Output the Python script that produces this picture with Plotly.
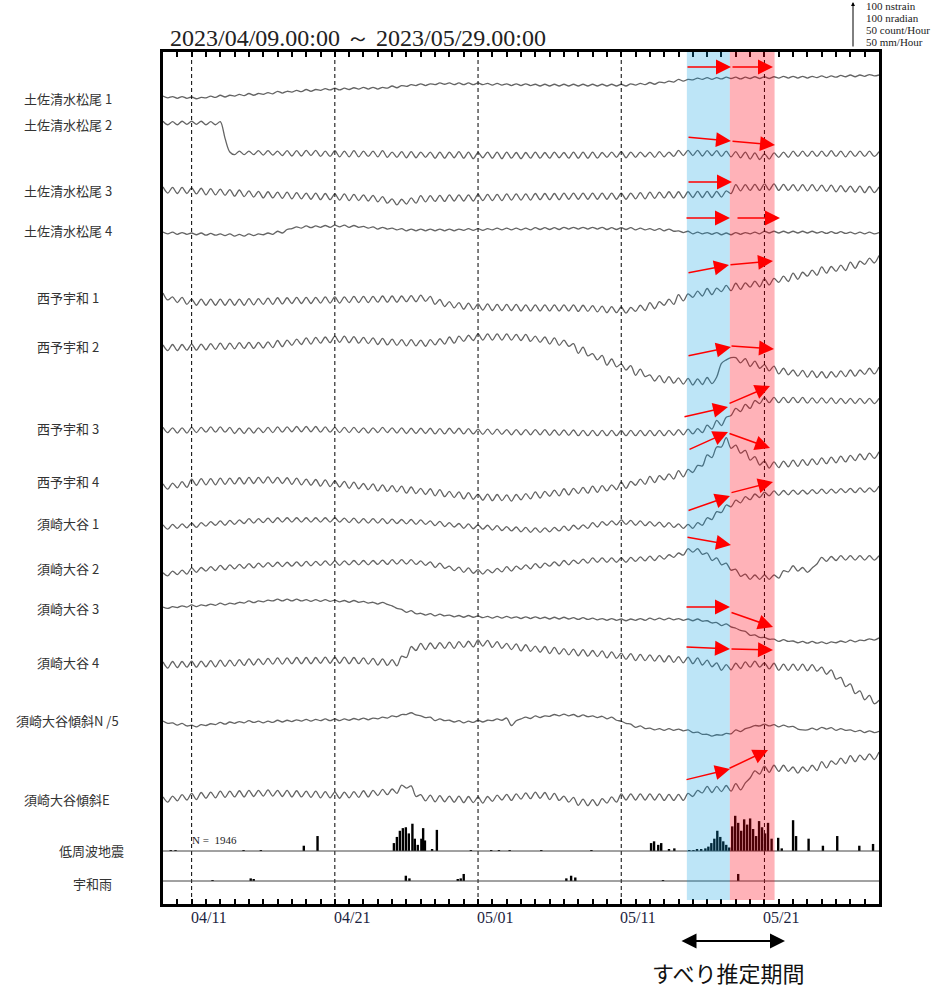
import plotly.graph_objects as go
import pandas as pd

# ---------------- data ----------------
T0 = pd.Timestamp("2023-04-09 00:00")
times = pd.date_range(T0, periods=151, freq="8h")   # 8-hourly samples, 04/09 - 05/29

stations = ["土佐清水松尾 1", "土佐清水松尾 2", "土佐清水松尾 3", "土佐清水松尾 4",
            "西予宇和 1", "西予宇和 2", "西予宇和 3", "西予宇和 4",
            "須崎大谷 1", "須崎大谷 2", "須崎大谷 3", "須崎大谷 4",
            "須崎大谷傾斜N /5", "須崎大谷傾斜E"]
extra_labels = ["低周波地震", "宇和雨"]

# relative strain / tilt values (nstrain / nradian), upward positive
s1 = [2,-2,1, -3,1,-3, 0,-4,-1, -2,2,-1, 4,0,4, 2,6,3, 8,4,8, 6,10,7, 13,9,13, 11,15,12,
      17,13,17, 15,19,16, 20,16,20, 17,21,18, 22,18,22, 18,22,20, 25,21,26, 24,28,26, 30,26,30,
      28,32,29, 32,28,32, 28,32,28, 32,28,31, 27,31,27, 30,26,30, 26,30,26, 29,25,29, 25,29,25,
      29,25,29, 25,29,25, 29,25,29, 25,29,25, 29,25,30, 27,31,28, 33,29,34, 32,36,34, 40,36,40,
      39,43,40, 44,40,44, 41,45,42, 45,41,45, 42,46,42, 46,42,46, 43,47,43, 47,43,47, 43,47,44,
      48,44,48, 45,49,46, 50,46,50, 47,51,48, 50]
s2 = [4,-4,3, -4,4,-3, 4,-3,4, -4,3,-4, 3,-35,-66, -72,-64,-72, -64,-72,-63, -73,-63,-73,
      -64,-74,-63, -75,-63,-75, -62,-74,-62, -76,-64,-76, -63,-77,-64, -77,-63,-77, -64,-76,-64,
      -77,-63,-78, -66,-78,-65, -79,-65,-79, -66,-78,-66, -80,-66,-80, -66,-79,-65, -80,-66,-81,
      -67,-79,-66, -80,-66,-81, -66,-80,-67, -81,-67,-80, -66,-80,-67, -80,-66,-79, -67,-80,-66,
      -80,-66,-80, -66,-80,-67, -78,-66,-78, -65,-79,-66, -78,-66,-77, -66,-78,-65, -77,-66,-76,
      -62,-74,-62, -74,-62,-75, -63,-74,-63, -76,-64,-77, -65,-79,-66, -82,-68,-83, -70,-82,-68,
      -78,-66,-78, -64,-76,-64, -76,-64,-76, -64,-76,-63, -76,-64,-77, -64,-76,-64, -76,-64,-76, -65]
s3 = [7,-7,6, -8,6,-8, 5,-9,4, -11,3,-11, 2,-12,1, -14,0,-15, -2,-16,-3, -18,-4,-18, -5,-19,-5,
      -20,-6,-20, -7,-21,-7, -22,-8,-22, -9,-23,-9, -24,-10,-24, -11,-25,-12, -27,-15,-30,
      -20,-34,-21, -32,-18,-30, -13,-27,-13, -26,-12,-26, -11,-25,-11, -25,-11,-25, -10,-24,-10,
      -24,-10,-24, -9,-23,-9, -23,-9,-23, -8,-22,-8, -22,-8,-22, -7,-21,-7, -21,-7,-21, -7,-21,-7,
      -21,-7,-21, -7,-21,-7, -20,-6,-20, -5,-19,-5, -18,-4,-18, -4,-18,-4, -17,-3,-17, -3,-17,-3,
      -16,-2,-8, 12,-2,12, -1,13,-1, 14,0,14, -1,13,-1, 12,-2,12, -2,12,-2, 11,-3,11, -4,10,-4,
      9,-5,9, -6,8,-6, 7]
s4 = [2,-2,2, -3,1,-3, 0,-4,0, -5,-1,-5, -2,-6,-2, -7,-3,-7, -2,-6,-2, -4,0,-3, 4,0,8, 10,14,11,
      16,12,16, 13,17,13, 18,14,18, 13,17,13, 15,11,14, 9,13,9, 11,7,10, 5,9,5, 9,5,9, 5,9,5,
      9,5,9, 6,10,6, 10,6,10, 7,11,7, 11,7,11, 7,11,7, 12,8,12, 8,12,8, 13,9,13, 9,13,9, 13,9,13,
      8,12,8, 12,8,12, 7,11,7, 10,6,10, 5,9,4, 5,1,4, -2,2,-2, 1,-3,1, -4,0,-4, 1,-3,1, -2,2,-2,
      4,0,4, 0,4,0, 4,0,4, 0,4,0, 3,-1,3, -1,3,-1, 2,-2,2, -2,2,-2, 1]
s5 = [7,-9,-2, -15,-3,-19, -7,-21,-7, -21,-7,-21, -7,-21,-7, -21,-7,-21, -6,-20,-6, -19,-5,-19,
      -4,-18,-4, -17,-3,-17, -3,-17,-3, -16,-2,-16, -2,-16,-2, -15,-1,-15, -1,-15,-1, -14,0,-14,
      0,-14,0, -13,1,-13, 2,-12,-1, -19,-8,-24, -13,-27,-15, -30,-16,-31, -18,-32,-18, -33,-19,-33,
      -19,-33,-19, -34,-20,-34, -20,-34,-20, -34,-20,-34, -20,-34,-20, -35,-21,-35, -22,-36,-23,
      -38,-24,-38, -25,-39,-26, -35,-21,-33, -15,-29,-13, -21,-7,-19, 3,-11,5, -3,11,0, 17,3,18,
      10,24,12, 29,15,30, 20,34,21, 39,25,40, 31,45,33, 52,38,54, 45,59,47, 66,52,67, 56,70,58,
      77,63,79, 72,86,75, 92]
s6 = [7,-6,8, -6,8,-5, 9,-5,9, -4,10,-3, 11,-3,11, -2,12,-1, 13,-1,13, 0,14,1, 17,3,18, 6,20,8,
      23,9,24, 11,25,12, 27,13,27, 12,26,11, 24,10,23, 8,22,7, 20,6,19, 5,19,5, 18,4,19, 7,21,9,
      25,11,27, 15,29,17, 32,18,32, 18,32,18, 32,18,31, 17,31,15, 27,13,25, 9,23,6, 18,4,10,
      -12,2,-18, -13,-27,-17, -39,-25,-43, -36,-50,-40, -62,-48,-65, -61,-75,-63, -79,-65,-80,
      -68,-82,-69, -84,-70,-83, -67,-81,-66, -35,-27,-22, -22,-34,-24, -42,-30,-46, -38,-52,-41,
      -59,-46,-61, -50,-64,-51, -66,-52,-67, -54,-68,-54, -66,-52,-65, -50,-64,-50, -60,-46,-59, -43]
s7 = [6,-6,5, -7,5,-7, 6,-6,6, -5,7,-5, 7,-5,6, -8,4,-8, 5,-7,5, -6,6,-6, 7,-5,7, -4,8,-4,
      8,-4,8, -5,7,-5, 6,-6,6, -6,6,-6, 5,-7,5, -6,6,-6, 5,-7,5, -8,4,-8, 4,-8,4, -9,3,-9,
      4,-8,4, -9,3,-9, 2,-10,2, -10,2,-10, 1,-11,1, -11,1,-11, 1,-11,1, -12,0,-12, 0,-12,0,
      -13,-1,-13, -1,-13,-1, -13,-1,-13, -1,-13,-1, -13,-1,-13, -1,-13,-1, -13,-1,-12, 1,-11,2,
      -9,3,-6, 11,2,22, 10,29,33, 49,42,58, 49,67,60, 74,62,74, 62,74,62, 74,62,74, 61,73,61,
      73,61,73, 60,72,60, 72,60,72, 60,72,60, 72]
s8 = [7,-5,9, -2,12,-1, 18,4,19, 5,19,5, 20,6,20, 7,21,7, 22,8,22, 9,23,9, 22,8,21, 6,20,5,
      18,4,17, 2,16,1, 14,0,13, -3,11,-4, 8,-6,7, -9,5,-10, 3,-11,2, -14,0,-15, -3,-17,-4,
      -20,-6,-22, -10,-24,-11, -27,-13,-28, -16,-30,-16, -31,-17,-31, -18,-32,-17, -29,-15,-27,
      -11,-25,-10, -21,-7,-20, -4,-18,-3, -15,-1,-14, 2,-12,3, -9,5,-6, 11,-3,13, 4,18,6,
      24,10,26, 16,30,18, 37,23,40, 33,49,48, 73,67,91, 91,112,88, 95,77,83, 61,69,50, 59,43,57,
      44,59,46, 61,47,62, 49,64,51, 66,53,68, 55,70,57, 72,60,75, 62,77,65, 80]
s9 = [5,-5,6, -3,7,-2, 9,-1,10, 2,12,4, 14,4,15, 6,16,8, 19,9,19, 10,20,10, 21,11,21, 11,21,11,
      21,11,21, 11,21,11, 21,11,20, 10,20,9, 19,9,19, 9,19,8, 18,8,17, 7,17,6, 16,6,14, 3,13,1,
      10,0,8, -3,7,-4, 5,-5,4, -7,3,-8, 1,-9,0, -11,-1,-12, -2,-12,-2, -11,-1,-9, 2,-8,4,
      -5,5,-3, 10,0,12, 4,14,5, 16,6,15, 4,14,3, 12,2,11, 0,10,-1, 7,-3,6, -3,10,4, 21,17,35,
      33,50,46, 61,55,69, 62,75,67, 79,71,82, 72,83,73, 84,74,84, 75,85,76, 86,76,86, 77,87,78,
      88,78,89, 79,89,80, 93]
s10 = [5,-2,9, 1,11,2, 16,6,17, 9,19,10, 22,12,23, 14,24,15, 26,16,27, 18,28,19, 29,19,29,
       20,30,20, 31,21,31, 22,32,22, 32,22,32, 23,33,23, 33,23,33, 24,34,24, 35,25,35, 25,35,24,
       32,22,30, 17,27,15, 20,10,18, 6,16,4, 12,2,12, 5,15,7, 19,9,20, 13,23,14, 26,16,27,
       20,30,21, 33,23,34, 26,36,27, 39,29,39, 29,39,29, 39,29,40, 31,41,32, 43,33,44, 36,46,40,
       50,45,60, 52,60,47, 50,33,39, 23,27,11, 13,-3,2, -10,0,-10, 0,-10,0, -7,10,7, 21,9,17,
       6,16,25, 40,31,42, 33,44,34, 44,34,44, 34,44,34, 44]
s11 = [2,-1,3, 1,5,2, 7,3,7, 5,9,6, 11,7,11, 9,13,11, 16,12,16, 14,18,16, 20,16,20, 16,20,16,
       19,15,19, 15,19,15, 18,14,17, 13,17,13, 15,11,13, 9,13,8, 5,-1,-3, -10,-6,-13,
       -12,-16,-13, -18,-14,-18, -16,-20,-17, -21,-17,-21, -18,-22,-19, -23,-19,-23, -19,-23,-20,
       -24,-20,-24, -20,-24,-21, -25,-21,-25, -21,-25,-22, -26,-22,-26, -23,-27,-24, -28,-24,-28,
       -25,-29,-25, -28,-24,-28, -23,-27,-23, -27,-23,-27, -24,-28,-25, -29,-25,-30, -29,-34,-33,
       -40,-36,-43, -46,-51,-53, -62,-61,-67, -67,-71,-71, -76,-72,-76, -75,-79,-76, -80,-76,-80,
       -77,-81,-77, -79,-75,-78, -73,-77,-73, -74,-70,-73, -68]
s12 = [7,-7,8, -6,8,-5, 9,-5,9, -4,10,-4, 11,-3,11, -2,12,-1, 14,0,14, 1,15,2, 16,2,16, 3,17,3,
       17,3,17, 4,18,4, 18,4,18, 3,17,3, 16,2,15, 0,14,-1, 12,-2,20, 17,42,33, 49,35,50, 37,51,38,
       52,38,53, 40,54,41, 57,43,56, 40,53,38, 49,35,48, 32,46,31, 43,29,42, 26,40,25, 37,23,36,
       21,35,20, 33,19,32, 16,30,15, 27,13,26, 10,24,10, 23,9,22, 7,21,6, 19,5,18, 3,16,0,
       11,-4,5, -12,1,-11, 4,-8,7, -5,9,-5, 5,-9,4, -12,2,-12, 2,-12,2, -13,1,-14, -5,-21,-11,
       -32,-28,-49, -43,-65,-59, -79,-69,-88, -80]
s13 = [2,-3,-2, -7,-3,-9, -7,-11,-6, -8,-4,-6, -1,-5,0, -3,1,-2, 3,-1,2, -2,2,-1, 4,0,4, 1,5,2,
       6,2,6, 3,7,3, 7,3,7, 4,8,5, 9,5,9, 7,11,9, 14,12,17, 17,21,16, 14,10,11, 3,7,3, 4,0,3,
       -2,2,-1, 4,0,4, 3,7,4, 9,-8,3, 7,11,8, 14,10,14, 13,17,14, 18,14,17, 12,16,12, 14,10,13,
       7,11,4, 2,-3,-5, -12,-9,-15, -14,-18,-15, -19,-15,-19, -16,-20,-18, -24,-23,-28,
       -28,-32,-29, -30,-26,-27, -18,-22,-15, -12,-8,-9, -5,-9,-6, -11,-7,-11, -10,-16,-18,
       -18,-14,-18, -12,-16,-13, -19,-15,-19, -18,-22,-19, -24,-20,-24, -21]
s14 = [7,-5,9, -2,12,0, 15,1,17, 4,18,5, 20,6,20, 7,21,7, 22,8,22, 9,23,9, 22,8,22, 7,21,7,
       20,6,20, 5,19,5, 18,4,18, 5,19,6, 21,7,22, 10,24,12, 25,15,34, 27,32,8, 12,-2,11, -4,10,-4,
       9,-5,9, -6,8,-6, 7,-7,8, -3,11,0, 13,-1,14, 2,16,3, 18,4,17, 1,15,-1, 9,-5,6, -12,2,-13,
       1,-13,3, -7,7,-5, 14,0,14, 0,14,0, 14,0,14, -1,13,-1, 13,-1,15, 8,22,16, 31,17,31,
       19,33,20, 37,23,39, 50,66,59, 77,63,79, 65,79,65, 75,61,75, 65,79,67, 87,73,89, 81,95,83,
       101,87,102, 91,105,92, 109]
strain_series = [s1, s2, s3, s4, s5, s6, s7, s8, s9, s10, s11, s12, s13, s14]

# low-frequency earthquakes (count / hour)
eq_times = ["2023-04-09 13:00", "2023-04-09 21:00", "2023-04-14 15:00", "2023-04-15 20:00",
            "2023-04-18 20:00", "2023-04-19 19:00", "2023-04-25 03:00", "2023-04-25 08:00",
            "2023-04-25 13:00", "2023-04-25 18:00", "2023-04-25 23:00", "2023-04-26 04:00",
            "2023-04-26 10:00", "2023-04-26 14:00", "2023-04-26 19:00", "2023-04-27 01:00",
            "2023-04-27 04:00", "2023-04-27 07:00", "2023-04-27 19:00", "2023-04-28 03:00",
            "2023-04-30 12:00", "2023-05-01 22:00", "2023-05-02 11:00", "2023-05-03 05:00",
            "2023-05-05 10:00", "2023-05-08 22:00", "2023-05-13 02:00", "2023-05-13 07:00",
            "2023-05-13 14:00", "2023-05-13 19:00", "2023-05-14 08:00", "2023-05-14 17:00",
            "2023-05-15 18:00", "2023-05-16 01:00", "2023-05-16 07:00", "2023-05-16 14:00",
            "2023-05-16 21:00", "2023-05-17 02:00", "2023-05-17 07:00", "2023-05-17 12:00",
            "2023-05-17 17:00", "2023-05-17 22:00", "2023-05-18 03:00", "2023-05-18 08:00",
            "2023-05-18 13:00", "2023-05-18 18:00", "2023-05-18 23:00", "2023-05-19 04:00",
            "2023-05-19 09:00", "2023-05-19 14:00", "2023-05-19 19:00", "2023-05-20 00:00",
            "2023-05-20 05:00", "2023-05-20 10:00", "2023-05-20 15:00", "2023-05-20 20:00",
            "2023-05-21 01:00", "2023-05-21 06:00", "2023-05-21 12:00", "2023-05-21 23:00",
            "2023-05-22 05:00", "2023-05-23 00:00", "2023-05-23 05:00", "2023-05-24 02:00",
            "2023-05-25 02:00", "2023-05-26 02:00", "2023-05-27 15:00", "2023-05-28 14:00"]
eq_counts = [1, 1, 1, 1, 6, 17, 9, 16, 23, 26, 27, 20, 31, 14, 7, 14, 26, 12, 2, 24,
             1, 1, 1, 1, 1, 1, 9, 11, 7, 9, 2, 3,
             1, 1, 2, 2, 3, 5, 9, 14, 23, 16, 11, 7, 4,
             28, 40, 32, 23, 36, 30, 37, 25, 17, 34, 27, 20, 32, 14,
             15, 3, 35, 17, 14, 6, 17, 6, 8]
eq_total = 1946

# rainfall at Uwa (mm / hour)
rain_times = ["2023-04-12 11:00", "2023-04-15 03:00", "2023-04-15 08:00", "2023-04-25 23:00",
              "2023-04-26 05:00", "2023-04-29 14:00", "2023-04-29 19:00", "2023-04-30 00:00",
              "2023-05-07 04:00", "2023-05-07 12:00", "2023-05-07 19:00", "2023-05-13 22:00",
              "2023-05-19 04:00"]
rain_mm = [1, 3, 2, 6, 3, 2, 3, 8, 3, 6, 4, 1, 8]

date_ticks = ["2023-04-11", "2023-04-21", "2023-05-01", "2023-05-11", "2023-05-21"]
date_tick_text = ["04/11", "04/21", "05/01", "05/11", "05/21"]
scale_texts = ["100 nstrain", "100 nradian", "50 count/Hour", "50 mm/Hour"]
title_text = "2023/04/09.00:00 ～ 2023/05/29.00:00"
period_text = "すべり推定期間"
blue_period = ["2023-05-15 14:00", "2023-05-18 14:00"]
red_period = ["2023-05-18 14:00", "2023-05-21 17:00"]

# ---------------- geometry / style ----------------
W, H = 931, 989
ML, MR, MT, MB = 163, 52, 52, 85
PW, PH = W - ML - MR, H - MT - MB
Y_BOTTOM, Y_TOP = MT + PH, MT          # y axis measured in screen rows
PX_PER_UNIT = 44 / 100                  # 100 nstrain = 44 px
PX_PER_COUNT = 44 / 50                  # 50 count/h = 44 px
baselines = [97, 123, 190, 233, 296, 348, 430, 487, 527, 575, 608, 665, 722, 800]
EQ_BASE, RAIN_BASE = 851, 881
label_pos = [(22, 98), (22, 125), (22, 190), (22, 231), (35, 298), (35, 347), (35, 428), (35, 481),
             (35, 523), (35, 568), (35, 608), (35, 662), (14, 720), (22, 799)]
extra_label_pos = [(57, 850), (71, 883)]
PX_PER_DAY = PW / 50.0


def px_to_time(px):
    return (T0 + pd.Timedelta(days=(px - ML) / PX_PER_DAY)).strftime("%Y-%m-%d %H:%M:%S")


def px_x(px):
    return (px - ML) / PW


def px_y(py):
    return (Y_BOTTOM - py) / PH


# red slip-direction arrows: (tail x, tail y, head x, head y) in reference pixel space
arrows = [(686, 67, 731, 67), (731, 67, 773, 67),
          (687, 137, 731, 141), (731, 141, 775, 145),
          (687, 182, 732, 182),
          (685, 218, 730, 218), (736, 218, 780, 218),
          (687, 273, 729, 265), (729, 265, 773, 261),
          (687, 356, 731, 347), (730, 346, 774, 349),
          (683, 417, 728, 407), (728, 404, 770, 386),
          (688, 450, 728, 432), (728, 433, 770, 448),
          (687, 511, 730, 496), (730, 493, 773, 482),
          (686, 537, 731, 545),
          (685, 607, 730, 607), (730, 612, 773, 627),
          (685, 647, 730, 649), (730, 649, 773, 650),
          (685, 780, 730, 769), (728, 769, 768, 750)]

fig = go.Figure()

for vals, base in zip(strain_series, baselines):
    fig.add_trace(go.Scatter(
        x=times[:len(vals)], y=[base - v * PX_PER_UNIT for v in vals],
        mode="lines", line=dict(color="#646464", width=1.3, shape="spline", smoothing=0.9),
        hoverinfo="skip"))

fig.add_trace(go.Bar(x=pd.to_datetime(eq_times), y=[-c * PX_PER_COUNT for c in eq_counts],
                     base=EQ_BASE, width=4 * 3600 * 1000, marker_color="black",
                     marker_line_width=0, hoverinfo="skip"))
fig.add_trace(go.Bar(x=pd.to_datetime(rain_times), y=[-r * PX_PER_COUNT for r in rain_mm],
                     base=RAIN_BASE, width=4 * 3600 * 1000, marker_color="black",
                     marker_line_width=0, hoverinfo="skip"))

shapes = []
for d in date_ticks:
    shapes.append(dict(type="line", xref="x", yref="paper", x0=d, x1=d, y0=0, y1=1,
                       line=dict(color="black", width=1, dash="4px,3px"), layer="above"))
for yb in (EQ_BASE, RAIN_BASE):
    shapes.append(dict(type="line", xref="paper", yref="y", x0=0, x1=1, y0=yb, y1=yb,
                       line=dict(color="#444", width=1)))
shapes.append(dict(type="rect", xref="x", yref="paper", x0=blue_period[0], x1=blue_period[1],
                   y0=px_y(900), y1=1, fillcolor="rgba(0,156,224,0.26)", line_width=0, layer="above"))
shapes.append(dict(type="rect", xref="x", yref="paper", x0=red_period[0], x1=red_period[1],
                   y0=px_y(900), y1=1, fillcolor="rgba(255,0,20,0.3)", line_width=0, layer="above"))

ann = []
for txt, (lx, ly) in zip(stations + extra_labels, label_pos + extra_label_pos):
    ann.append(dict(text=txt, xref="paper", yref="paper", x=px_x(lx), y=px_y(ly), xanchor="left",
                    yanchor="middle", showarrow=False,
                    font=dict(family="Noto Sans CJK JP", size=13, color="#333")))
for d, t in zip(date_ticks, date_tick_text):
    ann.append(dict(text=t, xref="x", yref="paper", x=d, y=px_y(918), xanchor="left",
                    yanchor="middle", xshift=-3, showarrow=False,
                    font=dict(family="Liberation Serif", size=16, color="#1c2440")))
ann.append(dict(text=title_text, xref="paper", yref="paper", x=px_x(168), y=px_y(38),
                xanchor="left", yanchor="middle", showarrow=False,
                font=dict(family="Liberation Serif", size=24, color="#222")))
ann.append(dict(text="N =  %d" % eq_total, xref="paper", yref="paper", x=px_x(190), y=px_y(840),
                xanchor="left", yanchor="middle", showarrow=False,
                font=dict(family="Liberation Serif", size=11, color="#222")))
for i, t in enumerate(scale_texts):
    ann.append(dict(text=t, xref="paper", yref="paper", x=px_x(864), y=px_y(6 + 12 * i),
                    xanchor="left", yanchor="middle", showarrow=False,
                    font=dict(family="Liberation Serif", size=11, color="#222")))
ann.append(dict(text="", xref="paper", yref="paper", x=px_x(853), y=px_y(2), ax=0, ay=46,
                axref="pixel", ayref="pixel", showarrow=True, arrowhead=2, arrowsize=0.8,
                arrowwidth=1, arrowcolor="black"))
for tx, ty, hx, hy in arrows:
    ann.append(dict(text="", xref="x", yref="y", axref="x", ayref="y",
                    x=px_to_time(hx), y=hy, ax=px_to_time(tx), ay=ty,
                    showarrow=True, arrowhead=2, arrowsize=2, arrowwidth=1.5, arrowcolor="red"))
# period double arrow
ann.append(dict(text="", xref="paper", yref="paper", x=px_x(785), y=px_y(941), ax=-105, ay=0,
                axref="pixel", ayref="pixel", showarrow=True, arrowside="end+start",
                arrowhead=2, arrowsize=1.5, startarrowhead=2, startarrowsize=1.5,
                arrowwidth=2, arrowcolor="black"))
ann.append(dict(text=period_text, xref="paper", yref="paper", x=px_x(728), y=px_y(972),
                xanchor="center", yanchor="middle", showarrow=False,
                font=dict(family="Noto Sans CJK JP", size=22, color="#111")))

fig.update_layout(
    width=W, height=H, margin=dict(l=ML, r=MR, t=MT, b=MB, pad=0),
    paper_bgcolor="white", plot_bgcolor="white", showlegend=False, barmode="overlay",
    shapes=shapes, annotations=ann,
    xaxis=dict(type="date", range=["2023-04-09", "2023-05-29"], showgrid=False, zeroline=False,
               ticks="inside", tick0="2023-04-09", dtick=86400000, ticklen=5, tickwidth=1.5,
               tickcolor="black", showticklabels=False, showline=True, linewidth=3,
               linecolor="black", mirror="ticks"),
    yaxis=dict(range=[Y_BOTTOM, Y_TOP], showgrid=False, zeroline=False, showticklabels=False,
               ticks="", showline=True, linewidth=3, linecolor="black", mirror=True),
)

fig.write_html("out.html", config={"displayModeBar": False},
               post_script="document.body.style.margin='0';document.body.style.padding='0';")
